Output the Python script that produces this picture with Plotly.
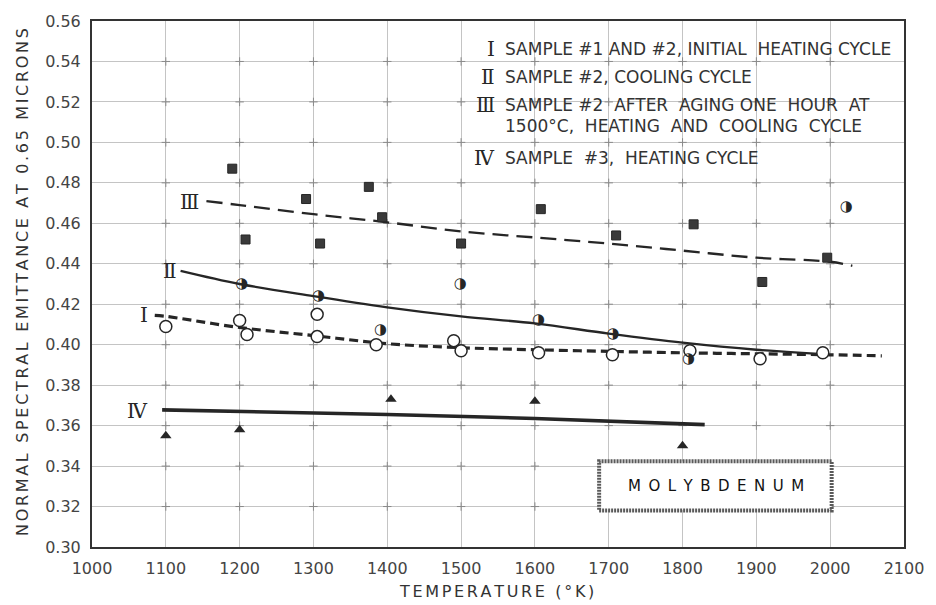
import numpy as np
import plotly.graph_objects as go

# Measured points: normal spectral emittance of molybdenum at 0.65 microns
t_I = [1100, 1200, 1210, 1305, 1305, 1385, 1490, 1500, 1605, 1705, 1810, 1905, 1990]
e_I = [0.409, 0.412, 0.405, 0.415, 0.404, 0.400, 0.402, 0.397, 0.396, 0.395, 0.397, 0.393, 0.396]

t_II = [1203, 1307, 1391, 1499, 1605, 1706, 1808, 2022]
e_II = [0.430, 0.424, 0.407, 0.430, 0.412, 0.405, 0.393, 0.468]

t_III = [1190, 1208, 1290, 1309, 1375, 1393, 1500, 1608, 1710, 1815, 1908, 1996]
e_III = [0.487, 0.452, 0.472, 0.450, 0.478, 0.463, 0.450, 0.467, 0.454, 0.4595, 0.431, 0.443]

t_IV = [1100, 1200, 1405, 1600, 1800]
e_IV = [0.355, 0.358, 0.373, 0.372, 0.350]

# Faired curves through each set
ct_I = [1085, 1100, 1200, 1300, 1400, 1500, 1600, 1700, 1800, 1900, 2000, 2070]
ce_I = [0.4145, 0.414, 0.4085, 0.4045, 0.4005, 0.3985, 0.3975, 0.3967, 0.396, 0.3955, 0.395, 0.3945]

ct_II = [1120, 1200, 1300, 1400, 1500, 1600, 1700, 1800, 1900, 1985]
ce_II = [0.4365, 0.430, 0.424, 0.4185, 0.414, 0.4105, 0.4055, 0.401, 0.3975, 0.3955]

ct_III = [1155, 1200, 1300, 1400, 1500, 1600, 1700, 1800, 1900, 2000, 2030]
ce_III = [0.471, 0.469, 0.4645, 0.4605, 0.456, 0.453, 0.450, 0.4465, 0.443, 0.441, 0.439]

ct_IV = [1095, 1400, 1600, 1830]
ce_IV = [0.3678, 0.3655, 0.3635, 0.3605]

x_ticks = [1000, 1100, 1200, 1300, 1400, 1500, 1600, 1700, 1800, 1900, 2000, 2100]
y_ticks = [0.30, 0.32, 0.34, 0.36, 0.38, 0.40, 0.42, 0.44, 0.46, 0.48, 0.50, 0.52, 0.54, 0.56]

curve_labels = ["Ⅰ", "Ⅱ", "Ⅲ", "Ⅳ"]
curve_label_pos = [(1071, 0.4145), (1105, 0.4365), (1132, 0.4705), (1061, 0.3673)]

key_lines = [
    ("Ⅰ", "SAMPLE #1 AND #2, INITIAL  HEATING CYCLE"),
    ("Ⅱ", "SAMPLE #2, COOLING CYCLE"),
    ("Ⅲ", "SAMPLE #2  AFTER  AGING ONE  HOUR  AT"),
    ("", "1500°C,  HEATING  AND  COOLING  CYCLE"),
    ("Ⅳ", "SAMPLE  #3,  HEATING CYCLE"),
]

ink = "#262626"
FONT = "DejaVu Sans"


def spaced(s, gap="\u2006"):
    """Open up the lettering by slipping a narrow space between characters."""
    return gap.join(s)


fig = go.Figure()

# grid intersection tick marks
gx, gy = np.meshgrid(x_ticks[1:-1], y_ticks[1:-1])
fig.add_trace(go.Scatter(x=gx.ravel(), y=gy.ravel(), mode="markers",
                         marker=dict(symbol="cross-thin", size=6,
                                     line=dict(color="#8a8a8a", width=1)),
                         hoverinfo="skip", showlegend=False))

# curves
fig.add_trace(go.Scatter(x=ct_III, y=ce_III, mode="lines", line_shape="spline",
                         line=dict(color=ink, width=2.3, dash="16px,8px"), showlegend=False))
fig.add_trace(go.Scatter(x=ct_II, y=ce_II, mode="lines", line_shape="spline",
                         line=dict(color=ink, width=2.3), showlegend=False))
fig.add_trace(go.Scatter(x=ct_I, y=ce_I, mode="lines", line_shape="spline",
                         line=dict(color=ink, width=3.2, dash="9px,5px"), showlegend=False))
fig.add_trace(go.Scatter(x=ct_IV, y=ce_IV, mode="lines", line_shape="spline",
                         line=dict(color=ink, width=3.6), showlegend=False))

# measured points
fig.add_trace(go.Scatter(x=t_I, y=e_I, mode="markers",
                         marker=dict(symbol="circle", size=12, color="white",
                                     line=dict(color=ink, width=1.5)), showlegend=False))
fig.add_trace(go.Scatter(x=t_II, y=e_II, mode="text", text=["◑"] * len(t_II),
                         textposition="middle center",
                         textfont=dict(family=FONT, size=15, color=ink), showlegend=False))
fig.add_trace(go.Scatter(x=t_III, y=e_III, mode="markers",
                         marker=dict(symbol="square", size=9, color="#3a3a3a",
                                     line=dict(color=ink, width=1)), showlegend=False))
fig.add_trace(go.Scatter(x=t_IV, y=e_IV, mode="markers",
                         marker=dict(symbol="triangle-up", size=10, color=ink),
                         showlegend=False))

annotations = []
for lab, (tx, ey) in zip(curve_labels, curve_label_pos):
    annotations.append(dict(x=tx, y=ey, xref="x", yref="y", text=lab, showarrow=False,
                            xanchor="center", yanchor="middle",
                            font=dict(family="DejaVu Serif", size=20, color=ink)))

# key in the upper right
key_y = [42, 71, 99, 120, 153]
for (num, txt), py in zip(key_lines, key_y):
    yp = 1 - (py - 14) / 533
    if num:
        annotations.append(dict(x=(500 - 92) / 818, y=yp, xref="paper", yref="paper",
                                text=num, showarrow=False, xanchor="right", yanchor="middle",
                                font=dict(family="DejaVu Serif", size=20, color=ink)))
    annotations.append(dict(x=(506 - 92) / 818, y=yp, xref="paper", yref="paper",
                            text=txt, showarrow=False, xanchor="left", yanchor="middle",
                            font=dict(family=FONT, size=17, color="#333333")))

annotations.append(dict(x=1845, y=0.3303, xref="x", yref="y",
                        text=spaced("MOLYBDENUM", "\u2002"),
                        showarrow=False, xanchor="center", yanchor="middle",
                        font=dict(family=FONT, size=15, color="#111111")))

annotations.append(dict(x=(499 - 92) / 818, y=-(592 - 547) / 533, xref="paper", yref="paper",
                        text=spaced("TEMPERATURE (°K)"), showarrow=False,
                        xanchor="center", yanchor="middle",
                        font=dict(family=FONT, size=16, color="#333333")))
annotations.append(dict(x=-(92 - 22) / 818, y=0.503, xref="paper", yref="paper",
                        text=spaced("NORMAL SPECTRAL EMITTANCE AT 0.65 MICRONS"),
                        textangle=-90, showarrow=False, xanchor="center", yanchor="middle",
                        font=dict(family=FONT, size=16, color="#333333")))

shapes = [
    dict(type="rect", xref="x", yref="y", x0=1687, x1=2002, y0=0.318, y1=0.3424,
         fillcolor="white", line=dict(color="#5a5a5a", width=4, dash="2px,1px"),
         layer="above"),
]

fig.update_layout(
    width=936, height=605,
    margin=dict(l=92, r=26, t=14, b=58),
    paper_bgcolor="white", plot_bgcolor="white",
    annotations=annotations, shapes=shapes,
    xaxis=dict(range=[1000, 2100], tickvals=x_ticks, ticktext=[str(v) for v in x_ticks],
               showgrid=True, gridcolor="#c4c4c4", gridwidth=1, zeroline=False,
               showline=True, linecolor="#333333", linewidth=2, mirror=True,
               ticks="", ticklabelstandoff=6,
               tickfont=dict(family=FONT, size=16, color="#444444")),
    yaxis=dict(range=[0.30, 0.56], tickvals=y_ticks, ticktext=[f"{v:.2f}" for v in y_ticks],
               showgrid=True, gridcolor="#c4c4c4", gridwidth=1, zeroline=False,
               showline=True, linecolor="#333333", linewidth=2, mirror=True,
               ticks="", ticklabelstandoff=6,
               tickfont=dict(family=FONT, size=16, color="#444444")),
)

fig.write_html("out.html")
